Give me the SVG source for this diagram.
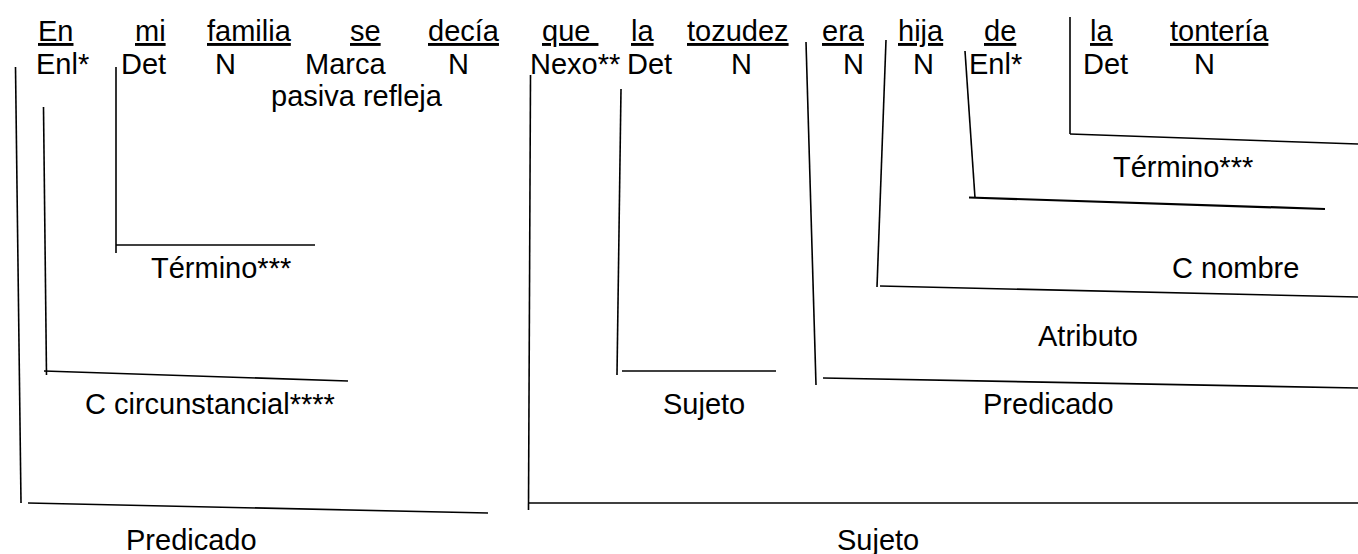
<svg xmlns="http://www.w3.org/2000/svg" width="1358" height="554" viewBox="0 0 1358 554">
<style>
text{font-family:"Liberation Sans",Arial,sans-serif;font-size:29px;fill:#000}
.w{text-decoration:underline}
.c line{stroke:#000;stroke-width:1.6;fill:none}
</style>
<rect width="1358" height="554" fill="#fff"/>
<g id="w-en"><text class="w" x="38" y="41">En</text><text x="36" y="73.5">Enl*</text></g>
<g id="w-mi"><text class="w" x="135" y="41">mi</text><text x="121" y="73.5">Det</text></g>
<g id="w-familia"><text class="w" x="207" y="41">familia</text><text x="215" y="73.5">N</text></g>
<g id="w-se"><text class="w" x="350" y="41">se</text><text x="305" y="73.5">Marca</text><text x="271" y="106">pasiva refleja</text></g>
<g id="w-decia"><text class="w" x="428" y="41">decía</text><text x="448" y="73.5">N</text></g>
<g id="w-que"><text class="w" x="542" y="41">que&#160;</text><text x="530" y="73.5">Nexo**</text></g>
<g id="w-la1"><text class="w" x="631" y="41">la</text><text x="627" y="73.5">Det</text></g>
<g id="w-tozudez"><text class="w" x="687" y="41">tozudez</text><text x="731" y="73.5">N</text></g>
<g id="w-era"><text class="w" x="822" y="41">era</text><text x="843" y="73.5">N</text></g>
<g id="w-hija"><text class="w" x="898" y="41">hija</text><text x="913" y="73.5">N</text></g>
<g id="w-de"><text class="w" x="984" y="41">de</text><text x="969" y="73.5">Enl*</text></g>
<g id="w-la2"><text class="w" x="1090" y="41">la</text><text x="1083" y="73.5">Det</text></g>
<g id="w-tonteria"><text class="w" x="1170" y="41">tontería</text><text x="1194" y="73.5">N</text></g>
<g class="c" id="connectors">
<line x1="15.5" y1="67" x2="21" y2="503"/>
<line x1="28" y1="503" x2="488" y2="513"/>
<line x1="43.5" y1="107" x2="46.5" y2="375"/>
<line x1="44" y1="371" x2="348" y2="381"/>
<line x1="116" y1="67" x2="116" y2="253"/>
<line x1="116" y1="245" x2="315" y2="245"/>
<line x1="530.5" y1="75" x2="528.5" y2="510"/>
<line x1="528.5" y1="503" x2="1358" y2="503"/>
<line x1="621" y1="89" x2="617" y2="375"/>
<line x1="622" y1="371" x2="776" y2="371"/>
<line x1="806" y1="42" x2="816" y2="385"/>
<line x1="823" y1="378" x2="1358" y2="388"/>
<line x1="886" y1="40" x2="877" y2="287"/>
<line x1="880" y1="286" x2="1358" y2="297"/>
<line x1="965" y1="51" x2="975" y2="198"/>
<line x1="969" y1="197.5" x2="1325" y2="209" style="stroke-width:2.2"/>
<line x1="1070" y1="17" x2="1070" y2="134"/>
<line x1="1070" y1="134" x2="1358" y2="144"/>
</g>
<g id="l-termino1"><text x="151" y="278">Término***</text></g>
<g id="l-ccirc"><text x="85" y="414">C circunstancial****</text></g>
<g id="l-pred1"><text x="126" y="550">Predicado</text></g>
<g id="l-sujeto1"><text x="663" y="414">Sujeto</text></g>
<g id="l-pred2"><text x="983" y="414">Predicado</text></g>
<g id="l-atributo"><text x="1038" y="346">Atributo</text></g>
<g id="l-cnombre"><text x="1172" y="278">C nombre</text></g>
<g id="l-termino2"><text x="1113" y="177">Término***</text></g>
<g id="l-sujeto2"><text x="837" y="550">Sujeto</text></g>
</svg>
